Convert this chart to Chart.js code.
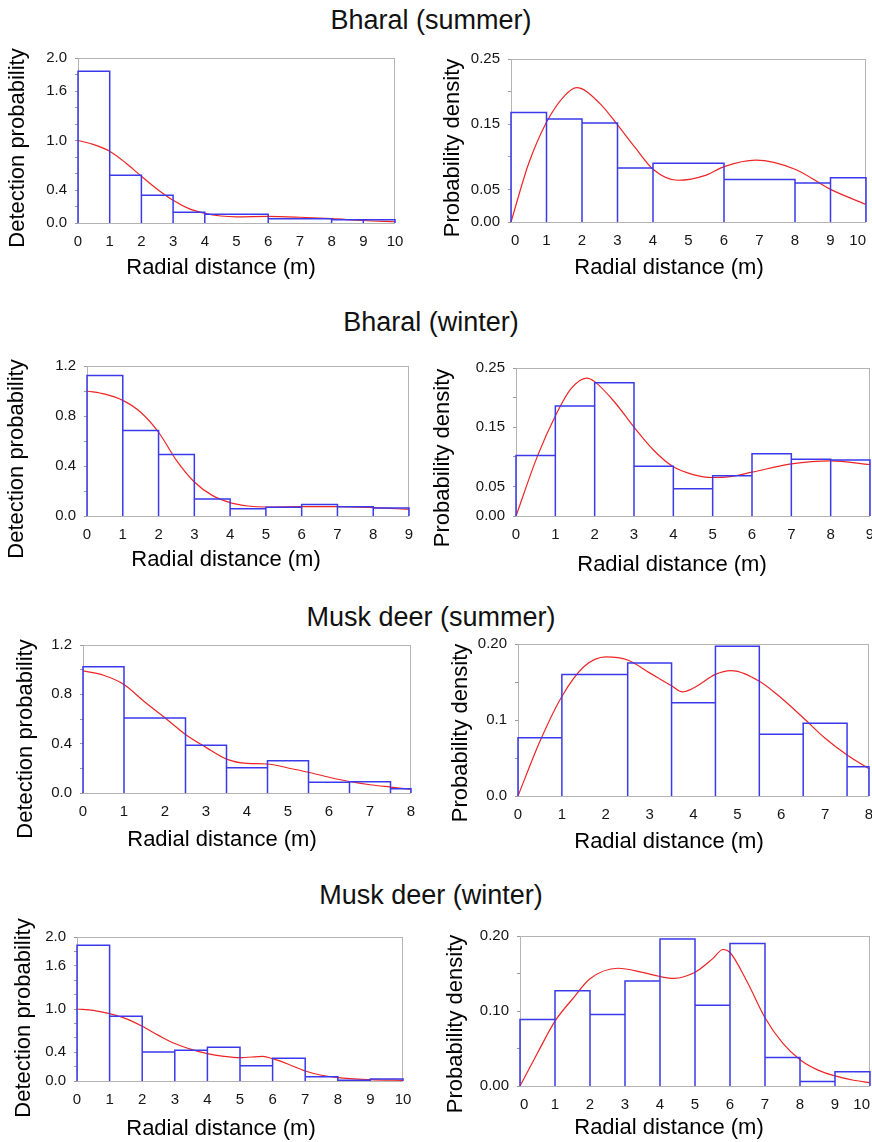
<!doctype html>
<html lang="en">
<head>
  <meta charset="utf-8">
  <title>Bharal and musk deer detection functions</title>
  <script src="https://cdn.jsdelivr.net/npm/chart.js"></script>
  <style>
    html, body { margin: 0; padding: 0; background: #fff; overflow: hidden; }
    body { width: 872px; height: 1142px; position: relative;
           font-family: "Liberation Sans", Arial, sans-serif; }
    canvas { position: absolute; left: 0; top: 0; }
    .row-title { position: absolute; left: 0; width: 862px; text-align: center;
                 font-size: 27px; line-height: 27px; color: #111; }
  </style>
</head>
<body>
  <div class="row-title" style="top:7px">Bharal (summer)</div>
  <div class="row-title" style="top:309px">Bharal (winter)</div>
  <div class="row-title" style="top:604px">Musk deer (summer)</div>
  <div class="row-title" style="top:882px">Musk deer (winter)</div>

  <canvas id="c1" width="900" height="1142"></canvas>
  <canvas id="c2" width="900" height="1142"></canvas>
  <canvas id="c3" width="900" height="1142"></canvas>
  <canvas id="c4" width="900" height="1142"></canvas>
  <canvas id="c5" width="900" height="1142"></canvas>
  <canvas id="c6" width="900" height="1142"></canvas>
  <canvas id="c7" width="900" height="1142"></canvas>
  <canvas id="c8" width="900" height="1142"></canvas>

  <script>
    // ---- data ----
    // Bharal (summer)
    const bsEdges      = [0, 1, 2, 3, 4, 6, 8, 9, 10];
    const bsDetBars    = [1.84, 0.58, 0.335, 0.13, 0.105, 0.053, 0.04, 0.04];
    const bsDetCurveX  = [0, 0.5, 1, 1.5, 2, 2.5, 3, 3.5, 4, 4.5, 5, 6, 7, 8, 9, 10];
    const bsDetCurveY  = [1.0, 0.95, 0.87, 0.73, 0.566, 0.41, 0.275, 0.174, 0.117, 0.085, 0.075, 0.08, 0.07, 0.053, 0.03, 0.015];
    const bsDenBars    = [0.168, 0.158, 0.152, 0.083, 0.090, 0.065, 0.060, 0.068];
    const bsDenCurveX  = [0, 0.5, 1, 1.5, 1.85, 2.5, 3, 3.5, 4, 4.7, 5.5, 6, 6.9, 8, 9, 10];
    const bsDenCurveY  = [0, 0.09, 0.153, 0.193, 0.206, 0.182, 0.149, 0.114, 0.081, 0.064, 0.072, 0.085, 0.095, 0.081, 0.05, 0.027];

    // Bharal (winter)
    const bwEdges      = [0, 1, 2, 3, 4, 5, 6, 7, 8, 9];
    const bwDetBars    = [1.125, 0.685, 0.493, 0.136, 0.059, 0.07, 0.093, 0.075, 0.064];
    const bwDetCurveX  = [0, 0.5, 1, 1.5, 2, 2.5, 3, 3.5, 4, 4.5, 5, 6, 7, 8, 9];
    const bwDetCurveY  = [1.0, 0.975, 0.925, 0.83, 0.67, 0.445, 0.272, 0.165, 0.107, 0.08, 0.072, 0.075, 0.075, 0.067, 0.053];
    const bwDenBars    = [0.102, 0.186, 0.225, 0.084, 0.046, 0.068, 0.105, 0.096, 0.0945];
    const bwDenCurveX  = [0, 0.55, 1, 1.4, 1.8, 2, 2.5, 3, 3.5, 4, 4.5, 5, 5.5, 6, 7, 8, 9];
    const bwDenCurveY  = [0, 0.102, 0.169, 0.215, 0.233, 0.227, 0.193, 0.15, 0.111, 0.083, 0.07, 0.065, 0.067, 0.074, 0.088, 0.093, 0.087];

    // Musk deer (summer)
    const msEdges      = [0, 1, 2.5, 3.5, 4.5, 5.5, 6.5, 7.5, 8];
    const msDetBars    = [1.024, 0.608, 0.387, 0.205, 0.261, 0.088, 0.091, 0.035];
    const msDetCurveX  = [0, 0.5, 1, 1.5, 2, 2.5, 3, 3.5, 4, 4.5, 5, 5.5, 6, 6.5, 7, 7.5, 8];
    const msDetCurveY  = [0.99, 0.955, 0.88, 0.74, 0.61, 0.475, 0.37, 0.275, 0.24, 0.235, 0.203, 0.168, 0.128, 0.093, 0.067, 0.048, 0.03];
    const msDenBars    = [0.0765, 0.160, 0.175, 0.1226, 0.197, 0.0814, 0.0956, 0.0385];
    const msDenCurveX  = [0, 0.5, 1, 1.5, 2, 2.5, 3, 3.5, 3.75, 4, 4.5, 4.85, 5.5, 6, 6.5, 7, 7.5, 8];
    const msDenCurveY  = [0, 0.072, 0.131, 0.17, 0.183, 0.179, 0.162, 0.145, 0.137, 0.142, 0.16, 0.165, 0.151, 0.129, 0.103, 0.076, 0.054, 0.036];

    // Musk deer (winter)
    const mwEdges      = [0, 1, 2, 3, 4, 5, 6, 7, 8, 9, 10];
    const mwDetBars    = [1.884, 0.898, 0.403, 0.426, 0.468, 0.213, 0.315, 0.06, 0.01, 0.028];
    const mwDetCurveX  = [0, 0.5, 1, 1.5, 2, 2.5, 3, 3.5, 4, 4.5, 5, 5.7, 6, 6.5, 7, 7.5, 8, 9, 10];
    const mwDetCurveY  = [1.0, 0.98, 0.935, 0.866, 0.76, 0.634, 0.52, 0.44, 0.38, 0.343, 0.324, 0.343, 0.31, 0.23, 0.139, 0.08, 0.046, 0.019, 0.009];
    const mwDenBars    = [0.0888, 0.127, 0.0955, 0.14, 0.196, 0.1076, 0.19, 0.038, 0.006, 0.019];
    const mwDenCurveX  = [0, 0.5, 1, 1.5, 2, 2.8, 3.5, 4, 4.4, 5, 5.5, 5.8, 6, 6.5, 7, 7.5, 8, 8.5, 9, 9.5, 10];
    const mwDenCurveY  = [0, 0.044, 0.0865, 0.116, 0.143, 0.157, 0.1516, 0.146, 0.1435, 0.1516, 0.1695, 0.182, 0.178, 0.138, 0.091, 0.0574, 0.035, 0.0215, 0.0135, 0.008, 0.0045];

    // tick labels shown on the y axes (other ticks are unlabelled)
    const detLabels20 = ['0.0', '0.4', '1.0', '1.6', '2.0'];
    const detLabels12 = ['0.0', '0.4', '0.8', '1.2'];
    const denLabels25 = ['0.00', '0.05', '0.15', '0.25'];
    const denLabels20 = ['0.0', '0.1', '0.20'];
    const denLabels20b = ['0.00', '0.10', '0.20'];

    const DET = 'Detection probability';
    const DEN = 'Probability density';
    const XT  = 'Radial distance (m)';

    // panels: data + where the plot box sits on the page
    const panels = [
      { id: 'c1', edges: bsEdges, bars: bsDetBars, cx: bsDetCurveX, cy: bsDetCurveY, xMax: 10, yMax: 2.0, yStep: 0.2, yLabels: detLabels20, yTitle: DET,
        box: [78, 58, 395, 223], yT: [18, 148], xT: [221, 268] },
      { id: 'c2', edges: bsEdges, bars: bsDenBars, cx: bsDenCurveX, cy: bsDenCurveY, xMax: 10, yMax: 0.25, yStep: 0.05, yLabels: denLabels25, yTitle: DEN,
        box: [511, 59, 866, 222], yT: [453, 148], xT: [669, 268], inner: true },
      { id: 'c3', edges: bwEdges, bars: bwDetBars, cx: bwDetCurveX, cy: bwDetCurveY, xMax: 9, yMax: 1.2, yStep: 0.2, yLabels: detLabels12, yTitle: DET,
        box: [87, 366, 409, 516], yT: [17, 459], xT: [226, 560] },
      { id: 'c4', edges: bwEdges, bars: bwDenBars, cx: bwDenCurveX, cy: bwDenCurveY, xMax: 9, yMax: 0.25, yStep: 0.05, yLabels: denLabels25, yTitle: DEN,
        box: [516, 368, 870, 516], yT: [443, 458], xT: [672, 565] },
      { id: 'c5', edges: msEdges, bars: msDetBars, cx: msDetCurveX, cy: msDetCurveY, xMax: 8, yMax: 1.2, yStep: 0.2, yLabels: detLabels12, yTitle: DET,
        box: [83, 645, 411, 793], yT: [26, 739], xT: [222, 840] },
      { id: 'c6', edges: msEdges, bars: msDenBars, cx: msDenCurveX, cy: msDenCurveY, xMax: 8, yMax: 0.2, yStep: 0.05, yLabels: denLabels20, yTitle: DEN,
        box: [518, 644, 869, 796], yT: [461, 733], xT: [669, 842] },
      { id: 'c7', edges: mwEdges, bars: mwDetBars, cx: mwDetCurveX, cy: mwDetCurveY, xMax: 10, yMax: 2.0, yStep: 0.2, yLabels: detLabels20, yTitle: DET,
        box: [77, 937, 403, 1081], yT: [24, 1018], xT: [221, 1129] },
      { id: 'c8', edges: mwEdges, bars: mwDenBars, cx: mwDenCurveX, cy: mwDenCurveY, xMax: 10, yMax: 0.2, yStep: 0.05, yLabels: denLabels20b, yTitle: DEN,
        box: [520, 936, 870, 1086], yT: [456, 1024], xT: [669, 1128], inner: true }
    ];

    const W = 900, H = 1142;
    const Y_W = 40, X_H = 30;
    const BLUE = 'rgb(58,58,236)';
    const RED  = 'rgb(238,36,36)';
    const FRAME = '#b4b4b4';
    const TEXT = '#151515';

    Chart.defaults.font.family = '"Liberation Sans", Arial, sans-serif';

    // outline of every bin: left side, top, right side
    function histPoints(edges, heights) {
      const pts = [{ x: edges[0], y: 0 }];
      heights.forEach((h, i) => {
        pts.push({ x: edges[i], y: h }, { x: edges[i + 1], y: h }, { x: edges[i + 1], y: 0 });
      });
      return pts;
    }

    // grey box round the plot and the two axis titles
    const frame = {
      id: 'frame',
      beforeDatasetsDraw(chart) {
        const { ctx, chartArea: a } = chart;
        ctx.save();
        ctx.strokeStyle = FRAME;
        ctx.lineWidth = 1;
        ctx.strokeRect(a.left + 0.5, a.top + 0.5, a.right - a.left - 1, a.bottom - a.top);
        ctx.restore();
      },
      afterDraw(chart, args, opts) {
        const ctx = chart.ctx;
        ctx.save();
        ctx.fillStyle = '#000';
        ctx.font = '22px "Liberation Sans", Arial, sans-serif';
        ctx.textAlign = 'center';
        ctx.textBaseline = 'middle';
        ctx.fillText(XT, opts.xT[0], opts.xT[1]);
        ctx.translate(opts.yT[0], opts.yT[1]);
        ctx.rotate(-Math.PI / 2);
        ctx.fillText(opts.yTitle, 0, 0);
        ctx.restore();
      }
    };

    panels.forEach(p => {
      const [left, top, right, bottom] = p.box;
      const nY = Math.round(p.yMax / p.yStep);
      const yTicks = [];
      for (let i = 0; i <= nY; i++) yTicks.push(+(i * p.yStep).toFixed(4));
      const xTicks = [];
      for (let i = 0; i <= p.xMax; i++) xTicks.push(i);

      new Chart(document.getElementById(p.id), {
        type: 'line',
        data: {
          datasets: [
            { data: histPoints(p.edges, p.bars), borderColor: BLUE, borderWidth: 1.5,
              pointRadius: 0, tension: 0, clip: false },
            { data: p.cx.map((x, i) => ({ x, y: p.cy[i] })), borderColor: RED, borderWidth: 1.2,
              pointRadius: 0, cubicInterpolationMode: 'monotone', clip: false }
          ]
        },
        options: {
          responsive: false,
          animation: false,
          events: [],
          layout: { padding: { left: left - Y_W, top: top, right: W - right, bottom: H - bottom - X_H } },
          plugins: {
            legend: { display: false },
            tooltip: { enabled: false },
            frame: { xT: p.xT, yT: p.yT, yTitle: p.yTitle }
          },
          scales: {
            x: {
              type: 'linear', min: 0, max: p.xMax,
              afterFit: s => { s.height = X_H; },
              afterBuildTicks: s => { s.ticks = xTicks.map(v => ({ value: v })); },
              grid: { display: false, drawTicks: false },
              border: { display: false },
              ticks: { padding: 10, color: TEXT, font: { size: 15 }, autoSkip: false, maxRotation: 0,
                       align: p.inner ? 'inner' : 'center',
                       callback: v => String(v) }
            },
            y: {
              type: 'linear', min: 0, max: p.yMax,
              afterFit: s => { s.width = Y_W; },
              afterBuildTicks: s => { s.ticks = yTicks.map(v => ({ value: v })); },
              grid: { drawOnChartArea: false, drawTicks: true, tickLength: 3, color: '#9a9a9a' },
              border: { display: false },
              ticks: {
                padding: 8, color: TEXT, font: { size: 15 }, autoSkip: false,
                callback: v => p.yLabels.find(l => Math.abs(parseFloat(l) - v) < 1e-6) || ''
              }
            }
          }
        },
        plugins: [frame]
      });
    });
  </script>
</body>
</html>
